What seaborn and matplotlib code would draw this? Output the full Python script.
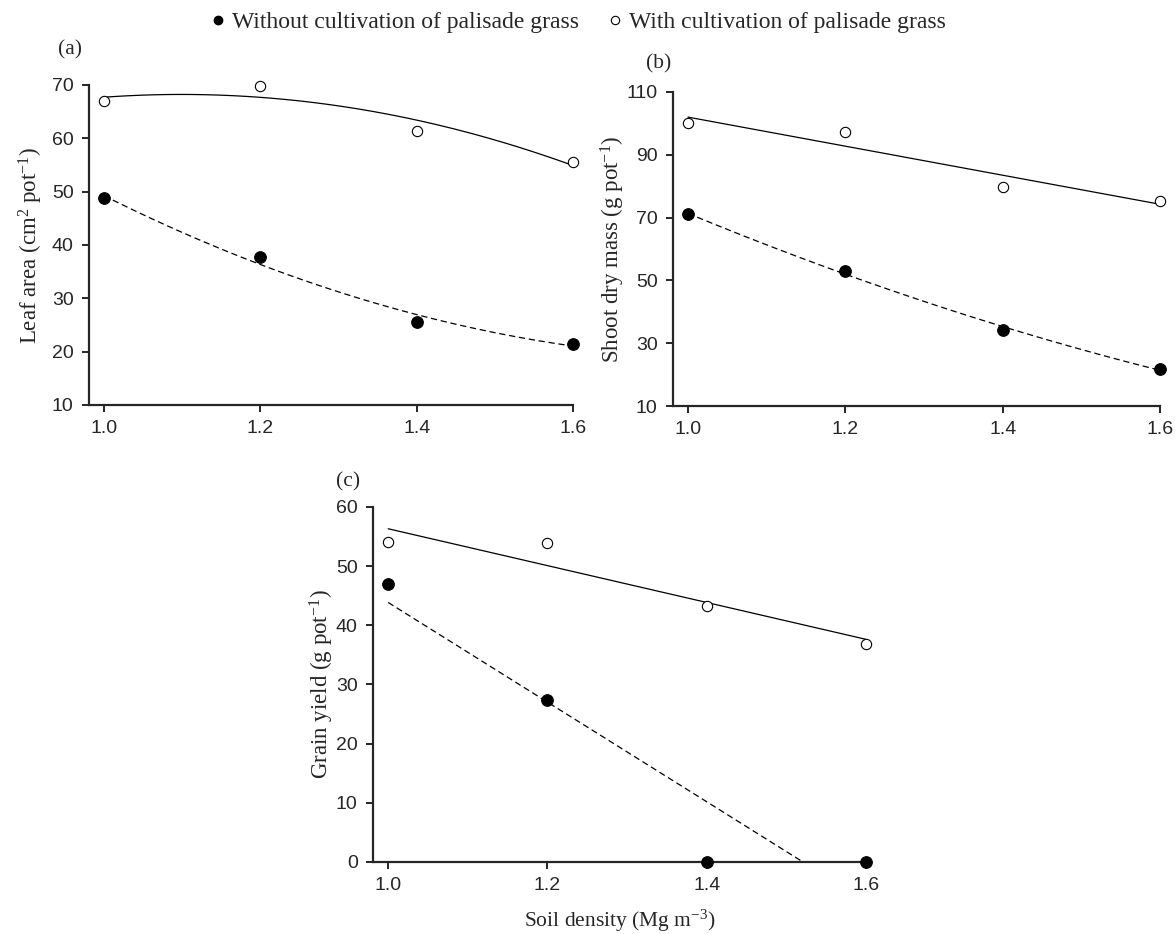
import matplotlib
matplotlib.use('Agg')
import matplotlib.pyplot as plt
import seaborn as sns
import numpy as np
from matplotlib.lines import Line2D

# soil density levels (Mg m-3)
density = [1.0, 1.2, 1.4, 1.6]

# (a) leaf area (cm2 pot-1)
leaf_without = [48.8, 37.7, 25.6, 21.5]
leaf_with = [67.0, 69.8, 61.3, 55.6]

# (b) shoot dry mass (g pot-1)
shoot_without = [71.0, 53.0, 34.3, 21.7]
shoot_with = [100.2, 97.3, 79.8, 75.2]

# (c) grain yield (g pot-1)
grain_without = [47.0, 27.4, 0.0, 0.0]
grain_with = [54.0, 53.9, 43.2, 36.8]

label_without = 'Without cultivation of palisade grass'
label_with = 'With cultivation of palisade grass'

sns.set_style('ticks')
plt.rcParams['font.family'] = ['Liberation Sans', 'DejaVu Sans']
plt.rcParams['mathtext.fontset'] = 'custom'
plt.rcParams['mathtext.rm'] = 'Liberation Serif'
plt.rcParams['mathtext.it'] = 'Liberation Serif:italic'
plt.rcParams['mathtext.default'] = 'rm'

SERIF = ['Liberation Serif', 'DejaVu Serif']

fig = plt.figure(figsize=(11.76, 9.34), dpi=100)
ax_a = fig.add_axes([0.0757, 0.5664, 0.4116, 0.3426])
ax_b = fig.add_axes([0.5723, 0.5653, 0.4141, 0.3362])
ax_c = fig.add_axes([0.3172, 0.0771, 0.4192, 0.3801])


def draw_panel(ax, without, with_, order_without, order_with):
    sns.regplot(x=density, y=without, order=order_without, ci=None, scatter=False,
                truncate=True, ax=ax,
                line_kws=dict(color='black', lw=0.9, ls=(0, (5, 3))))
    sns.regplot(x=density, y=with_, order=order_with, ci=None, scatter=False,
                truncate=True, ax=ax,
                line_kws=dict(color='black', lw=0.9, ls='-'))
    sns.scatterplot(x=density, y=without, ax=ax, color='black', s=70,
                    edgecolor='black', linewidth=0.8, zorder=5, clip_on=False)
    sns.scatterplot(x=density, y=with_, ax=ax, color='white', s=55,
                    edgecolor='black', linewidth=0.8, zorder=5, clip_on=False)
    ax.set_xlim(0.981, 1.6)
    ax.set_xticks(density)
    ax.set_xticklabels([f'{d:.1f}' for d in density])
    sns.despine(ax=ax)
    for s in ['left', 'bottom']:
        ax.spines[s].set_linewidth(1.6)
    ax.tick_params(direction='out', length=5, width=1.4, labelsize=14, pad=6)


draw_panel(ax_a, leaf_without, leaf_with, 2, 2)
ax_a.set_ylim(10, 70)
ax_a.set_yticks(range(10, 71, 10))
ax_a.set_ylabel(r'Leaf area (cm$^{2}$ pot$^{-1}$)', fontsize=16.5, family=SERIF, labelpad=5)
ax_a.text(-0.04, 1.11, '(a)', transform=ax_a.transAxes, fontsize=15.5, family=SERIF,
          ha='center', va='center')

draw_panel(ax_b, shoot_without, shoot_with, 2, 1)
ax_b.set_ylim(10, 110)
ax_b.set_yticks(range(10, 111, 20))
ax_b.set_ylabel(r'Shoot dry mass (g pot$^{-1}$)', fontsize=16.5, family=SERIF, labelpad=0)
ax_b.text(-0.03, 1.09, '(b)', transform=ax_b.transAxes, fontsize=15.5, family=SERIF,
          ha='center', va='center')

draw_panel(ax_c, grain_without, grain_with, 1, 1)
ax_c.set_ylim(0, 60)
ax_c.set_yticks(range(0, 61, 10))
ax_c.set_ylabel(r'Grain yield (g pot$^{-1}$)', fontsize=16.5, family=SERIF, labelpad=0)
ax_c.set_xlabel(r'Soil density (Mg m$^{-3}$)', fontsize=15.5, family=SERIF, labelpad=10)
ax_c.text(-0.05, 1.07, '(c)', transform=ax_c.transAxes, fontsize=15.5, family=SERIF,
          ha='center', va='center')

handles = [
    Line2D([], [], ls='none', marker='o', color='black', markersize=6),
    Line2D([], [], ls='none', marker='o', markerfacecolor='white',
           markeredgecolor='black', markersize=6, markeredgewidth=0.8),
]
fig.legend(handles, [label_without, label_with], loc='center', ncol=2,
           bbox_to_anchor=(0.49, 0.976), frameon=False, handletextpad=0.1,
           columnspacing=1.0, handlelength=1.0, prop={'family': SERIF, 'size': 17})

plt.savefig('out.png', dpi=100)
